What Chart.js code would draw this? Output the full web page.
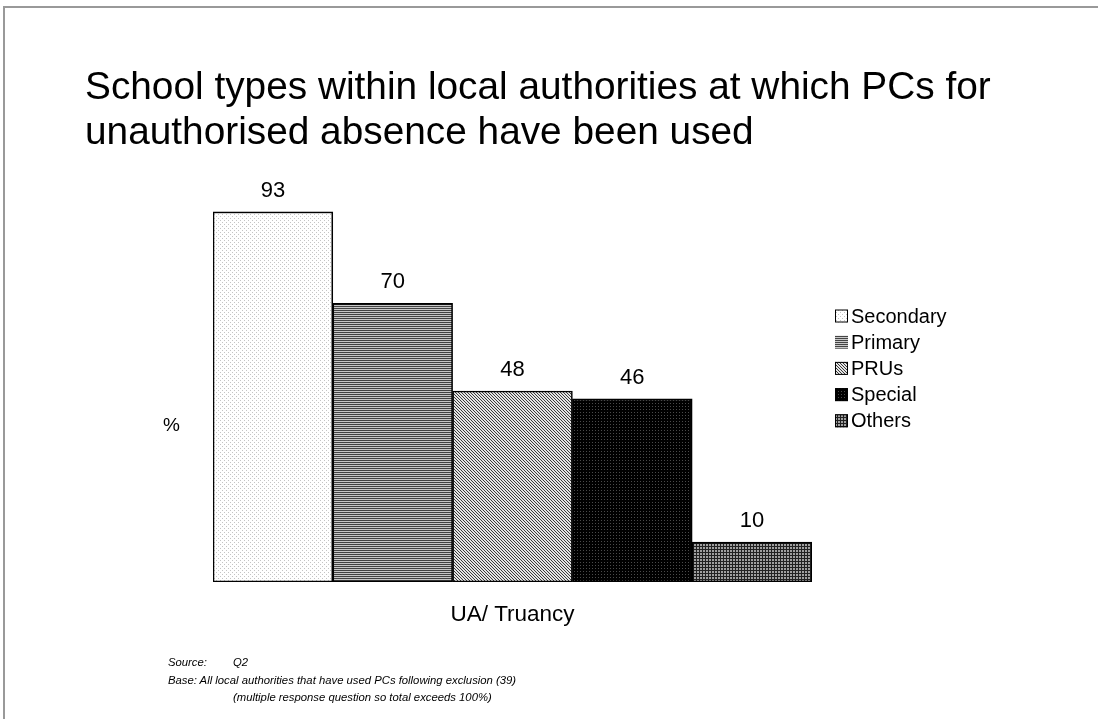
<!DOCTYPE html>
<html>
<head>
<meta charset="utf-8">
<script src="https://cdn.jsdelivr.net/npm/chart.js@4"></script>
<style>
  html, body { margin: 0; padding: 0; background: #fff; }
  body { width: 1098px; height: 719px; position: relative; overflow: hidden; font-family: "Liberation Sans", Arial, sans-serif; color: #000; }
  .frame { position: absolute; left: 3px; top: 6px; width: 1200px; height: 800px; border-top: 2px solid #999; border-left: 2px solid #999; }
  #wrap { position: absolute; left: 0; top: 0; width: 1098px; height: 719px; }
  .title { position: absolute; left: 85px; top: 63px; font-size: 38.8px; line-height: 45px; white-space: nowrap; }
  .ylab { position: absolute; left: 163px; top: 414px; font-size: 19px; }
  .notes { position: absolute; left: 168px; top: 654px; font-size: 11.3px; line-height: 17.5px; font-style: italic; white-space: nowrap; }
  .notes .k { display: inline-block; width: 65px; }
  .notes .ind { padding-left: 65px; }
</style>
</head>
<body>
<div class="frame"></div>
<div id="wrap"><canvas id="chart" width="1098" height="719"></canvas></div>
<div class="title">School types within local authorities at which PCs for<br>unauthorised absence have been used</div>
<div class="ylab">%</div>
<div class="notes">
  <div><span class="k">Source:</span>Q2</div>
  <div>Base: All local authorities that have used PCs following exclusion (39)</div>
  <div class="ind">(multiple response question so total exceeds 100%)</div>
</div>
<script>
const categories = ["UA/ Truancy"];
const seriesNames = ["Secondary", "Primary", "PRUs", "Special", "Others"];
const seriesValues = [93, 70, 48, 46, 10];

// small tiles used as fill patterns
function makePattern(size, draw) {
  const c = document.createElement("canvas");
  c.width = size; c.height = size;
  const g = c.getContext("2d");
  draw(g, size);
  return g.createPattern(c, "repeat");
}
const px = (g, x, y, col) => { g.fillStyle = col; g.fillRect(x, y, 1, 1); };

const patterns = [
  makePattern(4, (g) => { g.fillStyle = "#fff"; g.fillRect(0, 0, 4, 4); px(g, 0, 0, "#c4c4c4"); px(g, 2, 2, "#c4c4c4"); }),
  makePattern(2, (g) => { g.fillStyle = "#c8c8c8"; g.fillRect(0, 0, 2, 2); g.fillStyle = "#444"; g.fillRect(0, 0, 2, 1); }),
  makePattern(3, (g) => { g.fillStyle = "#e4e4e4"; g.fillRect(0, 0, 3, 3); for (let i = 0; i < 3; i++) px(g, i, i, "#3a3a3a"); }),
  makePattern(3, (g) => { g.fillStyle = "#000"; g.fillRect(0, 0, 3, 3); px(g, 1, 1, "#4a4a4a"); }),
  makePattern(3, (g) => { g.fillStyle = "#a0a0a0"; g.fillRect(0, 0, 3, 3); g.fillStyle = "#222"; g.fillRect(0, 0, 3, 1); g.fillRect(0, 0, 1, 3); }),
];

const labelPlugin = {
  id: "labels",
  afterDatasetsDraw(chart) {
    const ctx = chart.ctx;
    ctx.save();
    ctx.fillStyle = "#000";
    ctx.font = "22px 'Liberation Sans', Arial, sans-serif";
    ctx.textAlign = "center";
    ctx.textBaseline = "alphabetic";
    chart.data.datasets.forEach((ds, i) => {
      chart.getDatasetMeta(i).data.forEach((bar, j) => {
        ctx.fillText(String(ds.data[j]), bar.x, bar.y - 15);
      });
    });
    // category label under the bars
    const xs = chart.scales.x;
    ctx.font = "22.5px 'Liberation Sans', Arial, sans-serif";
    ctx.textBaseline = "middle";
    categories.forEach((c, j) => ctx.fillText(c, xs.getPixelForValue(j), 615));

    // legend at the right
    ctx.font = "20px 'Liberation Sans', Arial, sans-serif";
    ctx.textAlign = "left";
    chart.data.datasets.forEach((ds, i) => {
      const y = 316 + i * 26.2;
      ctx.fillStyle = ds.backgroundColor;
      ctx.fillRect(835, y - 6.5, 13, 13);
      ctx.strokeStyle = "#000";
      ctx.lineWidth = 1;
      if (i !== 1) ctx.strokeRect(835.5, y - 6, 12, 12);
      ctx.fillStyle = "#000";
      ctx.fillText(ds.label, 851, y + 1);
    });
    ctx.restore();
  },
};

new Chart(document.getElementById("chart"), {
  type: "bar",
  data: {
    labels: categories,
    datasets: seriesNames.map((name, i) => ({
      label: name,
      data: [seriesValues[i]],
      backgroundColor: patterns[i],
      borderColor: "#000",
      borderWidth: 1.6,
      borderSkipped: false,
      categoryPercentage: 1,
      barPercentage: 1,
    })),
  },
  options: {
    responsive: false,
    animation: false,
    devicePixelRatio: 1,
    layout: { padding: { left: 213, right: 286, top: 184, bottom: 137 } },
    plugins: { legend: { display: false }, tooltip: { enabled: false }, title: { display: false } },
    scales: {
      x: { display: false },
      y: { display: false, min: 0, max: 100 },
    },
  },
  plugins: [labelPlugin],
});
</script>
</body>
</html>
